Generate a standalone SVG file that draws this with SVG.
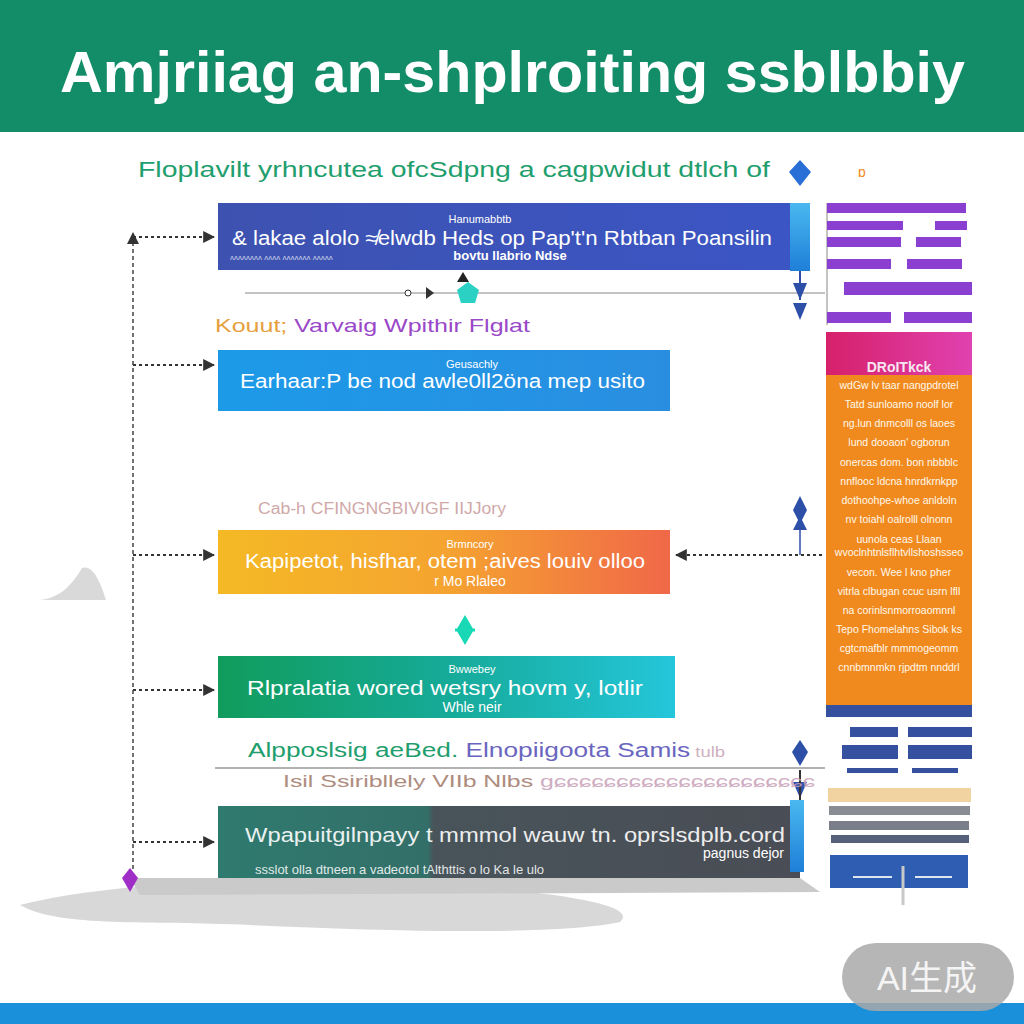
<svg xmlns="http://www.w3.org/2000/svg" width="1024" height="1024" viewBox="0 0 1024 1024">
<defs>
<style>
.t{font-family:"Liberation Sans",Arial,sans-serif;fill:#fff}
.s{font-size:11px}
.m{font-size:20px}
.r{font-size:10.5px;fill:#fff8ec}
.dash{stroke:#333;stroke-width:2;stroke-dasharray:3 3;fill:none}
.pb{fill:#8a3fd0}
.nb{fill:#34509e}
</style>
<linearGradient id="g1" x1="0" x2="1"><stop offset="0" stop-color="#3d52b0"/><stop offset="1" stop-color="#3b55c4"/></linearGradient>
<linearGradient id="g2" x1="0" x2="1"><stop offset="0" stop-color="#1c9ae8"/><stop offset="1" stop-color="#2a8ee0"/></linearGradient>
<linearGradient id="g3" x1="0" x2="1"><stop offset="0" stop-color="#f4b925"/><stop offset="0.5" stop-color="#f5a430"/><stop offset="1" stop-color="#f06848"/></linearGradient>
<linearGradient id="g4" x1="0" x2="1"><stop offset="0" stop-color="#119c5c"/><stop offset="0.5" stop-color="#16aa98"/><stop offset="1" stop-color="#24c6da"/></linearGradient>
<linearGradient id="g5" x1="0" x2="1"><stop offset="0" stop-color="#2f7a6f"/><stop offset="0.36" stop-color="#336f68"/><stop offset="0.37" stop-color="#48545a"/><stop offset="1" stop-color="#4a4d55"/></linearGradient>
<linearGradient id="gv" x1="0" y1="0" x2="0" y2="1"><stop offset="0" stop-color="#4ab8f0"/><stop offset="1" stop-color="#1e7fd8"/></linearGradient>
<linearGradient id="gm" x1="0" x2="1"><stop offset="0" stop-color="#d6206a"/><stop offset="1" stop-color="#e042b0"/></linearGradient>
<marker id="ar" viewBox="0 0 10 10" refX="9" refY="5" markerWidth="6" markerHeight="6" orient="auto"><path d="M0,0 L10,5 L0,10 z" fill="#333"/></marker>
</defs>
<rect width="1024" height="1024" fill="#fff"/>
<rect width="1024" height="132" fill="#138c68"/>
<text x="60" y="92" textLength="905" lengthAdjust="spacingAndGlyphs" font-family="Liberation Sans,Arial,sans-serif" font-weight="bold" font-size="58" fill="#fff">Amjriiag an-shplroiting ssblbbiy</text>
<rect y="1003" width="1024" height="21" fill="#1a90da"/>
<g id="shadows" fill="#cfcfcf" opacity="0.8">
<path d="M20,905 C120,880 300,875 440,885 C560,892 640,905 620,922 C560,935 400,932 250,925 C150,920 60,928 20,905 z"/>
<path d="M130,878 L800,878 L820,892 L140,895 z" fill="#bdbdbd"/>
<path d="M40,600 C60,598 72,585 82,568 C92,564 100,580 106,600 z"/>
</g>
<text x="138" y="177" textLength="632" lengthAdjust="spacingAndGlyphs" font-family="Liberation Sans,Arial,sans-serif" font-size="22" fill="#1f9e6e">Floplavilt  yrhncutea ofcSdpng a cagpwidut dtlch of</text>
<text x="858" y="177" font-family="Liberation Sans,Arial,sans-serif" font-size="14" fill="#f08a1e">ɒ</text>
<g id="connectors">
<line x1="133" y1="235" x2="133" y2="872" stroke="#444" stroke-width="1.5" stroke-dasharray="4 3"/>
<line x1="133" y1="237" x2="214" y2="237" class="dash" marker-end="url(#ar)"/>
<line x1="133" y1="365" x2="214" y2="365" class="dash" marker-end="url(#ar)"/>
<line x1="133" y1="555" x2="214" y2="555" class="dash" marker-end="url(#ar)"/>
<line x1="133" y1="690" x2="214" y2="690" class="dash" marker-end="url(#ar)"/>
<line x1="133" y1="842" x2="214" y2="842" class="dash" marker-end="url(#ar)"/>
<path d="M127,244 L133,232 L139,244 z" fill="#333"/>
<line x1="822" y1="555" x2="676" y2="555" class="dash" marker-end="url(#ar)"/>
<line x1="245" y1="293" x2="825" y2="293" stroke="#888" stroke-width="1.2"/>
<circle cx="408" cy="293" r="3" fill="#fff" stroke="#333"/>
<path d="M426,287 L434,293 L426,299 z" fill="#333"/>
<path d="M468,282 L479,290 L475,303 L461,303 L457,290 z" fill="#2bd1c2"/>
<path d="M457,282 L463,272 L469,282 z" fill="#222"/>
<line x1="215" y1="768" x2="825" y2="768" stroke="#666" stroke-width="1.2"/>
<path d="M130,868 L138,878 L130,892 L122,878 z" fill="#a02fc8"/>
<path d="M800,160 L811,172 L800,186 L789,172 z" fill="#2a6fd6"/>
<path d="M793,283 L807,283 L800,300 z M793,303 L807,303 L800,320 z" fill="#2e4fa8"/>
<line x1="800" y1="250" x2="800" y2="300" stroke="#2e4fa8" stroke-width="2"/>
<path d="M800,496 L807,510 L800,524 L793,510 z M800,516 L807,530 L793,530 z" fill="#2e4fa8"/>
<line x1="800" y1="530" x2="800" y2="555" stroke="#2e4fa8" stroke-width="1.5"/>
<path d="M800,740 L808,752 L800,766 L792,752 z" fill="#2e4fa8"/>
<path d="M793,782 L807,782 L800,798 z" fill="#2e4fa8"/>
<line x1="800" y1="770" x2="800" y2="800" stroke="#333" stroke-width="2"/>
<path d="M465,618 L472,630 L465,642 L458,630 z M455,630 L475,630" fill="#19d8b6" stroke="#19d8b6" stroke-width="3"/>
</g>
<g id="node1">
<rect x="218" y="203" width="574" height="67" fill="url(#g1)"/>
<rect x="790" y="203" width="20" height="68" fill="url(#gv)"/>
<text x="480" y="223" text-anchor="middle" class="t s">Hanumabbtb</text>
<text x="232" y="245" textLength="540" lengthAdjust="spacingAndGlyphs" class="t m">&amp; lakae alolo ≉elwdb Heds op Pap't'n Rbtban Poansilin</text>
<text x="510" y="260" text-anchor="middle" class="t" font-size="13" font-weight="bold">bovtu llabrio Ndse</text>
<text x="230" y="260" class="t" font-size="8" opacity="0.7">ᴧᴧᴧᴧᴧᴧᴧᴧ ᴧᴧᴧᴧ ᴧᴧᴧᴧᴧᴧᴧ ᴧᴧᴧᴧᴧ</text>
</g>
<text x="215" y="332" textLength="315" lengthAdjust="spacingAndGlyphs" font-family="Liberation Sans,Arial,sans-serif" font-size="19" fill="#9a48c8"><tspan fill="#e7a040">Kouut;</tspan> Varvaig Wpithir Flglat</text>
<g id="node2">
<rect x="218" y="350" width="452" height="61" fill="url(#g2)"/>
<text x="472" y="368" text-anchor="middle" class="t s">Geusachly</text>
<text x="240" y="388" textLength="405" lengthAdjust="spacingAndGlyphs" class="t m">Earhaar:P be nod awle0ll2öna mep usito</text>
</g>
<text x="258" y="514" textLength="248" lengthAdjust="spacingAndGlyphs" font-family="Liberation Sans,Arial,sans-serif" font-size="16" fill="#c89a9a" opacity="0.85">Cab-h CFINGNGBIVIGF IIJJory</text>
<g id="node3">
<rect x="218" y="530" width="452" height="64" fill="url(#g3)"/>
<text x="470" y="548" text-anchor="middle" class="t s">Brmncory</text>
<text x="245" y="568" textLength="400" lengthAdjust="spacingAndGlyphs" class="t m">Kapipetot, hisfhar, otem ;aives louiv olloo</text>
<text x="470" y="586" text-anchor="middle" class="t" font-size="14">r Mo Rlaleo</text>
</g>
<g id="node4">
<rect x="218" y="656" width="457" height="62" fill="url(#g4)"/>
<text x="472" y="673" text-anchor="middle" class="t s">Bwwebey</text>
<text x="247" y="695" textLength="396" lengthAdjust="spacingAndGlyphs" class="t m">Rlpralatia wored  wetsry hovm y, lotlir</text>
<text x="472" y="712" text-anchor="middle" class="t" font-size="14">Whle neir</text>
</g>
<text x="248" y="757" textLength="477" lengthAdjust="spacingAndGlyphs" font-family="Liberation Sans,Arial,sans-serif" font-size="20" fill="#1f9e6e">Alpposlsig aeBed. <tspan fill="#6a66c0">Elnopiigoota Samis</tspan><tspan fill="#d0b0c0" font-size="14"> tulb</tspan></text>
<text x="283" y="787" textLength="532" lengthAdjust="spacingAndGlyphs" font-family="Liberation Sans,Arial,sans-serif" font-size="17" fill="#a07868" opacity="0.85">Isil Ssiribllely VIIb Nlbs <tspan fill="#c8a0b8">ɡɕɕɕɕɕɕɕɕɕɕɕɕɕɕɕɕɕɕɕɕɕ</tspan></text>
<g id="node5">
<rect x="218" y="806" width="582" height="72" fill="url(#g5)"/>
<rect x="790" y="800" width="14" height="72" fill="url(#gv)"/>
<text x="245" y="842" textLength="540" lengthAdjust="spacingAndGlyphs" class="t" font-size="20" opacity="0.9">Wpapuitgilnpayy t mmmol wauw tn. oprslsdplb.cord</text>
<text x="784" y="858" text-anchor="end" class="t" font-size="14">pagnus dejor</text>
<text x="255" y="874" class="t" font-size="13" opacity="0.85">ssslot olla dtneen a vadeotol tAlthttis o lo Ka le ulo</text>
</g>
<g id="sidebar-top">
<line x1="827" y1="203" x2="827" y2="325" stroke="#888" stroke-width="1"/>
<rect x="827" y="203" width="139" height="10" class="pb"/>
<rect x="827" y="221" width="76" height="9" class="pb"/><rect x="935" y="221" width="32" height="9" class="pb"/>
<rect x="827" y="237" width="74" height="10" class="pb"/><rect x="916" y="237" width="45" height="10" class="pb"/>
<rect x="827" y="259" width="64" height="10" class="pb"/><rect x="907" y="259" width="55" height="10" class="pb"/>
<rect x="844" y="282" width="128" height="13" class="pb"/>
<rect x="827" y="312" width="64" height="11" class="pb"/><rect x="904" y="312" width="68" height="11" class="pb"/>
</g>
<g id="sidebar-panel">
<rect x="826" y="332" width="146" height="45" fill="url(#gm)"/>
<rect x="826" y="375" width="146" height="330" fill="#f08a1e"/>
<rect x="826" y="705" width="146" height="12" fill="#34509e"/>
<text x="899" y="372" text-anchor="middle" font-family="Liberation Sans,Arial,sans-serif" font-weight="bold" font-size="14" fill="#f6e6f0">DRoITkck</text>
<text x="899" y="389" text-anchor="middle" class="t r">wdGw lv taar nangpdrotel</text>
<text x="899" y="408" text-anchor="middle" class="t r">Tatd sunloamo noolf lor</text>
<text x="899" y="427" text-anchor="middle" class="t r">ng.lun dnmcolll os laoes</text>
<text x="899" y="446" text-anchor="middle" class="t r">lund dooaon' ogborun</text>
<text x="899" y="466" text-anchor="middle" class="t r">onercas dom. bon nbbblc</text>
<text x="899" y="485" text-anchor="middle" class="t r">nnflooc ldcna hnrdkrnkpp</text>
<text x="899" y="504" text-anchor="middle" class="t r">dothoohpe-whoe anldoln</text>
<text x="899" y="523" text-anchor="middle" class="t r">nv toiahl oalrolll olnonn</text>
<text x="899" y="543" text-anchor="middle" class="t r">uunola ceas Llaan</text>
<text x="899" y="556" text-anchor="middle" class="t r" fill="#fff2a0">wvoclnhtnlsflhtvllshoshsseo</text>
<text x="899" y="576" text-anchor="middle" class="t r">vecon. Wee l kno pher</text>
<text x="899" y="595" text-anchor="middle" class="t r">vitrla clbugan ccuc usrn lfll</text>
<text x="899" y="614" text-anchor="middle" class="t r">na corinlsnmorroaomnnl</text>
<text x="899" y="633" text-anchor="middle" class="t r">Tepo Fhomelahns Sibok ks</text>
<text x="899" y="652" text-anchor="middle" class="t r">cgtcmafblr mmmogeomm</text>
<text x="899" y="671" text-anchor="middle" class="t r">cnnbmnmkn rjpdtm nnddrl</text>
</g>
<g id="sidebar-bottom">
<rect x="850" y="727" width="48" height="10" class="nb"/><rect x="908" y="727" width="64" height="10" class="nb"/>
<rect x="842" y="745" width="56" height="14" class="nb"/><rect x="908" y="745" width="64" height="14" class="nb"/>
<rect x="847" y="768" width="51" height="5" class="nb"/><rect x="912" y="768" width="46" height="5" class="nb"/>
<rect x="828" y="788" width="143" height="14" fill="#f0d3a0"/>
<rect x="829" y="806" width="141" height="9" fill="#8a8c94"/>
<rect x="829" y="821" width="140" height="9" fill="#7a7e8a"/>
<rect x="831" y="835" width="138" height="8" fill="#55607a"/>
<rect x="830" y="855" width="138" height="33" fill="#2f5db2"/>
<line x1="853" y1="877" x2="892" y2="877" stroke="#dfe6f0" stroke-width="2"/>
<line x1="915" y1="877" x2="952" y2="877" stroke="#dfe6f0" stroke-width="2"/>
<line x1="903" y1="866" x2="903" y2="905" stroke="#c8c8c8" stroke-width="3"/>
</g>
<g id="watermark">
<rect x="842" y="943" width="172" height="68" rx="34" fill="#a9a9a9" opacity="0.85"/>
<text x="927" y="990" text-anchor="middle" font-family="Liberation Sans,'Noto Sans CJK SC',sans-serif" font-size="34" fill="#f4f4f4">AI生成</text>
</g>
</svg>
